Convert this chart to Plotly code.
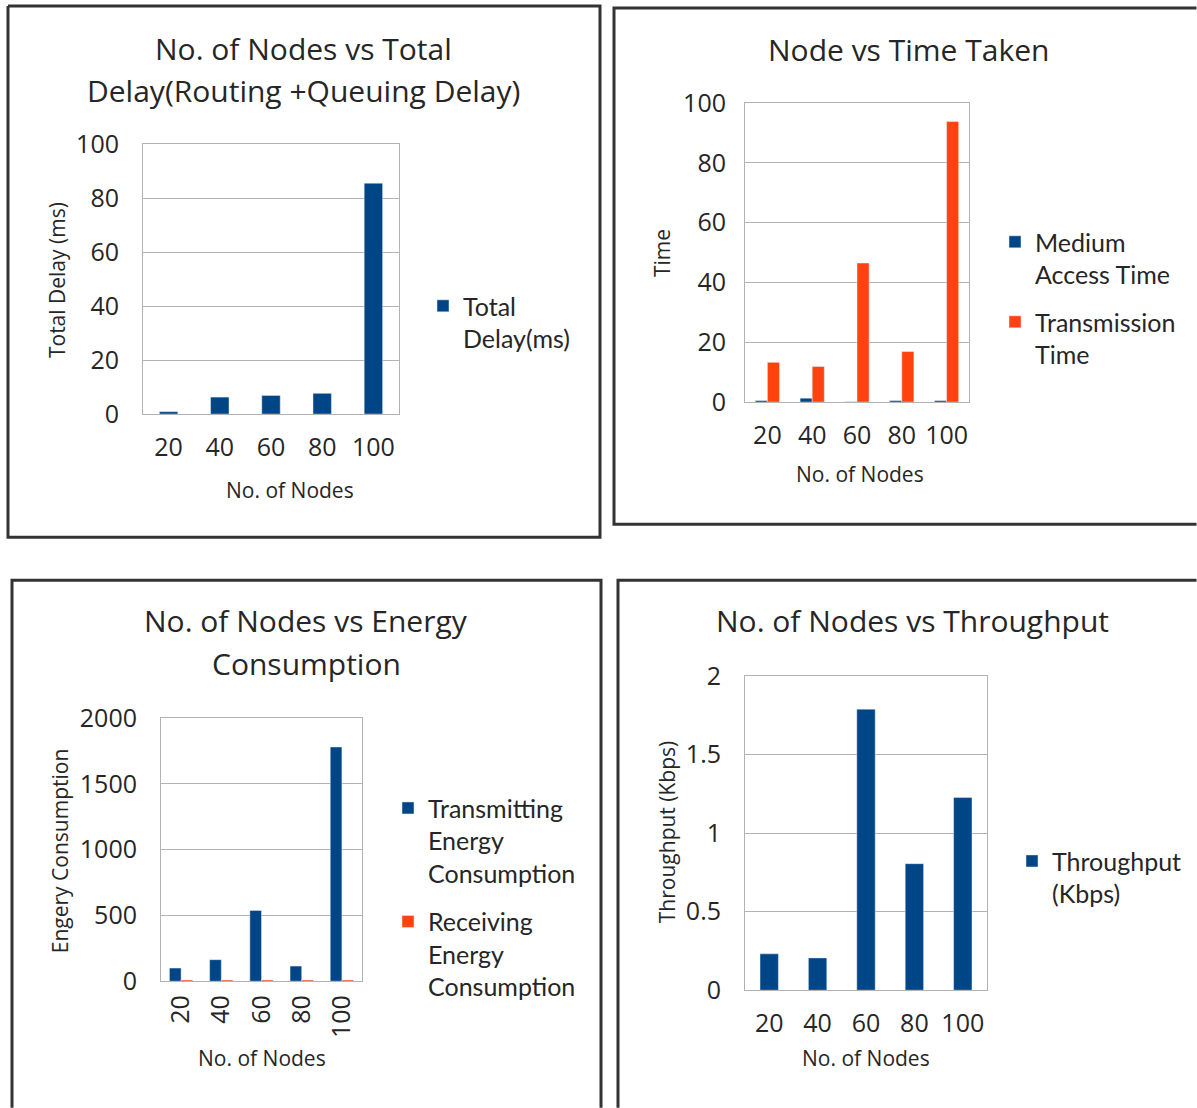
import plotly.graph_objects as go

# Reference picture size (all positions below are in reference pixels)
REF_W, REF_H = 1197, 1108
SY = 1 / 0.970                 # vertical factor of the photographing step
W, H = REF_W, round(REF_H * SY)
FONT = "Open Sans"
LEG_FONT = "Lato"
BLUE = "#004586"
ORANGE = "#ff420e"
GRID = "#b3b3b3"
TXT = "#262626"

# ---------------- data ----------------
nodes = ["20", "40", "60", "80", "100"]
total_delay = [0.9, 6.3, 6.9, 7.7, 85.5]
medium_access_time = [0.5, 1.3, 0.1, 0.5, 0.5]
transmission_time = [13.3, 11.9, 46.5, 16.9, 93.8]
transmitting_energy = [100, 164, 538, 115, 1781]
receiving_energy = [10, 10, 10, 10, 10]
throughput = [0.232, 0.206, 1.79, 0.806, 1.227]

titles = [
    ["No. of Nodes vs Total", "Delay(Routing +Queuing Delay)"],
    ["Node vs Time Taken"],
    ["No. of Nodes vs Energy", "Consumption"],
    ["No. of Nodes vs Throughput"],
]
ytitles = ["Total Delay (ms)", "Time", "Engery Consumption", "Throughput (Kbps)"]
xtitle = "No. of Nodes"


def X(x):
    return x / W


def Y(y):
    return 1 - (y * SY) / H


def px_x(a, b):
    return [X(a), X(b)]


def px_y(top, bottom):
    return [Y(bottom), Y(top)]


fig = go.Figure()

# ---------------- traces ----------------
fig.add_trace(go.Bar(x=nodes, y=total_delay, name="Total<br>Delay(ms)", marker_color=BLUE,
                     width=0.36, xaxis="x", yaxis="y", legend="legend", legendgroup="a"))
fig.add_trace(go.Bar(x=nodes, y=medium_access_time, name="Medium<br>Access Time", marker_color=BLUE,
                     width=0.27, offset=-0.27, xaxis="x2", yaxis="y2", legend="legend2", legendgroup="b"))
fig.add_trace(go.Bar(x=nodes, y=transmission_time, name="Transmission<br>Time", marker_color=ORANGE,
                     width=0.27, offset=0, xaxis="x2", yaxis="y2", legend="legend2", legendgroup="c"))
fig.add_trace(go.Bar(x=nodes, y=transmitting_energy, name="Transmitting<br>Energy<br>Consumption",
                     marker_color=BLUE, width=0.29, offset=-0.29, xaxis="x3", yaxis="y3",
                     legend="legend3", legendgroup="d"))
fig.add_trace(go.Bar(x=nodes, y=receiving_energy, name="Receiving<br>Energy<br>Consumption",
                     marker_color=ORANGE, width=0.29, offset=0, xaxis="x3", yaxis="y3",
                     legend="legend3", legendgroup="e"))
fig.add_trace(go.Bar(x=nodes, y=throughput, name="Throughput<br>(Kbps)", marker_color=BLUE,
                     width=0.38, xaxis="x4", yaxis="y4", legend="legend4", legendgroup="f"))

# ---------------- axes ----------------
plots = [
    dict(x=(143, 399), y=(144, 414), rng=[0, 100], dt=20, xangle=0, yl=18),
    dict(x=(745, 969), y=(103, 402), rng=[0, 100], dt=20, xangle=0, yl=13),
    dict(x=(161, 362), y=(718, 981), rng=[0, 2000], dt=500, xangle=-90, yl=18),
    dict(x=(745, 987), y=(676, 990), rng=[0, 2], dt=0.5, xangle=0, yl=18),
]

layout = dict(
    width=W, height=H, margin=dict(l=0, r=0, t=0, b=0),
    paper_bgcolor="white", plot_bgcolor="white",
    barmode="overlay", font=dict(family=FONT, color=TXT),
    showlegend=True,
)

for i, p in enumerate(plots):
    sfx = "" if i == 0 else str(i + 1)
    layout["xaxis" + sfx] = dict(
        domain=px_x(*p["x"]), anchor="y" + sfx, type="category",
        showline=True, linecolor=GRID, linewidth=1, mirror=True,
        showgrid=False, ticks="outside", ticklen=11 if p["xangle"] == 0 else 3,
        tickcolor="rgba(0,0,0,0)", tickangle=p["xangle"],
        tickfont=dict(family=FONT, size=25, color=TXT), fixedrange=True,
    )
    layout["yaxis" + sfx] = dict(
        domain=px_y(*p["y"]), anchor="x" + sfx, range=p["rng"], dtick=p["dt"],
        showline=True, linecolor=GRID, linewidth=1, mirror=True,
        showgrid=True, gridcolor=GRID, gridwidth=1, zeroline=False,
        ticks="outside", ticklen=p["yl"], tickcolor="rgba(0,0,0,0)",
        tickfont=dict(family=FONT, size=25, color=TXT), fixedrange=True,
    )

# ---------------- legends ----------------
leg_common = dict(font=dict(family=LEG_FONT, size=25, color=TXT), bgcolor="rgba(0,0,0,0)",
                  xanchor="left", yanchor="top", valign="top", itemclick=False,
                  itemdoubleclick=False)
layout["legend"] = dict(leg_common, x=X(423), y=Y(283), tracegroupgap=12)
layout["legend2"] = dict(leg_common, x=X(995), y=Y(219), tracegroupgap=12)
layout["legend3"] = dict(leg_common, x=X(388), y=Y(785), tracegroupgap=13)
layout["legend4"] = dict(leg_common, x=X(1012), y=Y(838), tracegroupgap=12)

# ---------------- annotations ----------------
ann = []
title_pos = [
    (303, [48, 90]),
    (908, [49]),
    (306, [620, 663]),
    (912, [620]),
]
for (cx, ys), lines in zip(title_pos, titles):
    for yy, t in zip(ys, lines):
        ann.append(dict(text=t, x=X(cx), y=Y(yy), xref="paper", yref="paper",
                        showarrow=False, xanchor="center", yanchor="middle",
                        font=dict(family=FONT, size=30, color=TXT)))

ytitle_pos = [(57, 280), (662, 253), (60, 851), (667, 832)]
for (cx, cy), t in zip(ytitle_pos, ytitles):
    ann.append(dict(text=t, x=X(cx), y=Y(cy), xref="paper", yref="paper", showarrow=False,
                    textangle=-90, xanchor="center", yanchor="middle",
                    font=dict(family=FONT, size=21, color=TXT)))

xtitle_pos = [(290, 490), (860, 474), (262, 1058), (866, 1058)]
for cx, cy in xtitle_pos:
    ann.append(dict(text=xtitle, x=X(cx), y=Y(cy), xref="paper", yref="paper", showarrow=False,
                    xanchor="center", yanchor="middle",
                    font=dict(family=FONT, size=21, color=TXT)))
layout["annotations"] = ann

# ---------------- panel frames (kept inside the page) ----------------
R, B = REF_W - 0.5, REF_H - 0.5


def frame_path(pts):
    return "M " + " L ".join(f"{X(a):.5f},{Y(b):.5f}" for a, b in pts)


frames = [
    [(8, 6), (600, 6), (600, 537), (8, 537), (8, 6)],
    [(R, 8), (614, 8), (614, 524), (R, 524)],
    [(12, B), (12, 580), (601, 580), (601, B)],
    [(618, B), (618, 580), (R, 580)],
]
layout["shapes"] = [
    dict(type="path", xref="paper", yref="paper", path=frame_path(f),
         line=dict(color="#333333", width=3), layer="below")
    for f in frames
]

fig.update_layout(**layout)

pin = ("document.body.style.margin='0';"
       "var d=document.getElementById('{plot_id}');"
       "d.style.position='absolute';d.style.left='0px';d.style.top='-18px';")
fig.write_html("out.html", config={"displayModeBar": False}, post_script=pin)
